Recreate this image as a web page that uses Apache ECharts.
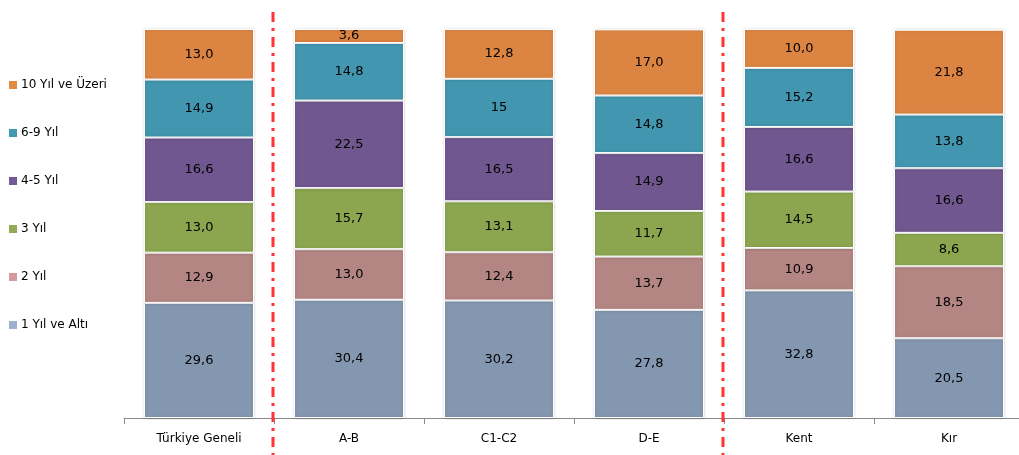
<!DOCTYPE html>
<html>
<head>
<meta charset="utf-8">
<script src="https://cdn.jsdelivr.net/npm/echarts@6/dist/echarts.min.js"></script>
<style>
html,body{margin:0;padding:0;background:#fff;overflow:hidden;width:1019px;height:455px;}
#c{width:1026px;height:455px;}
</style>
</head>
<body>
<div id="c"></div>
<script>
const categories = ['Türkiye Geneli', 'A-B', 'C1-C2', 'D-E', 'Kent', 'Kır'];
const seriesNames = ['1 Yıl ve Altı', '2 Yıl', '3 Yıl', '4-5 Yıl', '6-9 Yıl', '10 Yıl ve Üzeri'];
const yil1 = ['29,6', '30,4', '30,2', '27,8', '32,8', '20,5'];
const yil2 = ['12,9', '13,0', '12,4', '13,7', '10,9', '18,5'];
const yil3 = ['13,0', '15,7', '13,1', '11,7', '14,5', '8,6'];
const yil45 = ['16,6', '22,5', '16,5', '14,9', '16,6', '16,6'];
const yil69 = ['14,9', '14,8', '15', '14,8', '15,2', '13,8'];
const yil10 = ['13,0', '3,6', '12,8', '17,0', '10,0', '21,8'];
const separatorsAfter = [0, 3]; // dividing lines after these category indexes

const barColors = ['#8497B0', '#B38583', '#8BA64F', '#70578F', '#4396AF', '#DC8442'];
const legendColors = ['#9DB1CE', '#D39C9B', '#91AC55', '#735A93', '#4499B2', '#E08A44'];
const allData = [yil1, yil2, yil3, yil45, yil69, yil10];

const toNum = s => parseFloat(s.replace(',', '.'));

const chart = echarts.init(document.getElementById('c'));
const font = 'DejaVu Sans';

const series = allData.map((arr, i) => ({
  name: seriesNames[i],
  type: 'bar',
  stack: 'total',
  barWidth: 110,
  data: arr.map(toNum),
  itemStyle: {
    color: barColors[i],
    borderColor: '#ffffff',
    borderWidth: 1,
    shadowBlur: 3,
    shadowColor: 'rgba(0,0,0,0.18)'
  },
  label: {
    show: true,
    position: 'inside',
    color: '#000',
    fontFamily: font,
    fontSize: 13,
    formatter: p => arr[p.dataIndex]
  },
  emphasis: { disabled: true }
}));

chart.setOption({
  animation: false,
  backgroundColor: '#fff',
  legend: {
    orient: 'vertical',
    left: 4,
    top: 74,
    itemGap: 36,
    itemWidth: 8,
    itemHeight: 8,
    icon: 'rect',
    textStyle: { fontFamily: font, fontSize: 12, color: '#000', padding: [0, 0, 0, -1] },
    data: seriesNames.slice().reverse().map(n => ({
      name: n,
      itemStyle: { color: legendColors[seriesNames.indexOf(n)], borderWidth: 0, shadowBlur: 0 }
    })),
    selectedMode: false
  },
  grid: { left: 124, top: 29, width: 900, bottom: 37 },
  xAxis: {
    type: 'category',
    data: categories,
    boundaryGap: true,
    axisLine: { lineStyle: { color: '#898989', width: 1 } },
    axisTick: { show: true, length: 6, interval: 0, lineStyle: { color: '#898989' } },
    axisLabel: { fontFamily: font, fontSize: 12, color: '#000', margin: 15, interval: 0 }
  },
  yAxis: {
    type: 'value',
    min: 0,
    max: 100,
    show: false,
    splitLine: { show: false }
  },
  series: series
});

// Red dash-dot separators between category groups
const lines = separatorsAfter.map(idx => {
  const a = chart.convertToPixel({ xAxisIndex: 0 }, categories[idx]);
  const b = chart.convertToPixel({ xAxisIndex: 0 }, categories[idx + 1]);
  const x = (a + b) / 2 - 1;
  return {
    type: 'line',
    shape: { x1: x, y1: 12, x2: x, y2: 455 },
    style: { stroke: '#FF3333', lineWidth: 3, lineDash: [10, 6, 3, 6] },
    z: 100
  };
});
chart.setOption({ graphic: lines });
</script>
</body>
</html>
